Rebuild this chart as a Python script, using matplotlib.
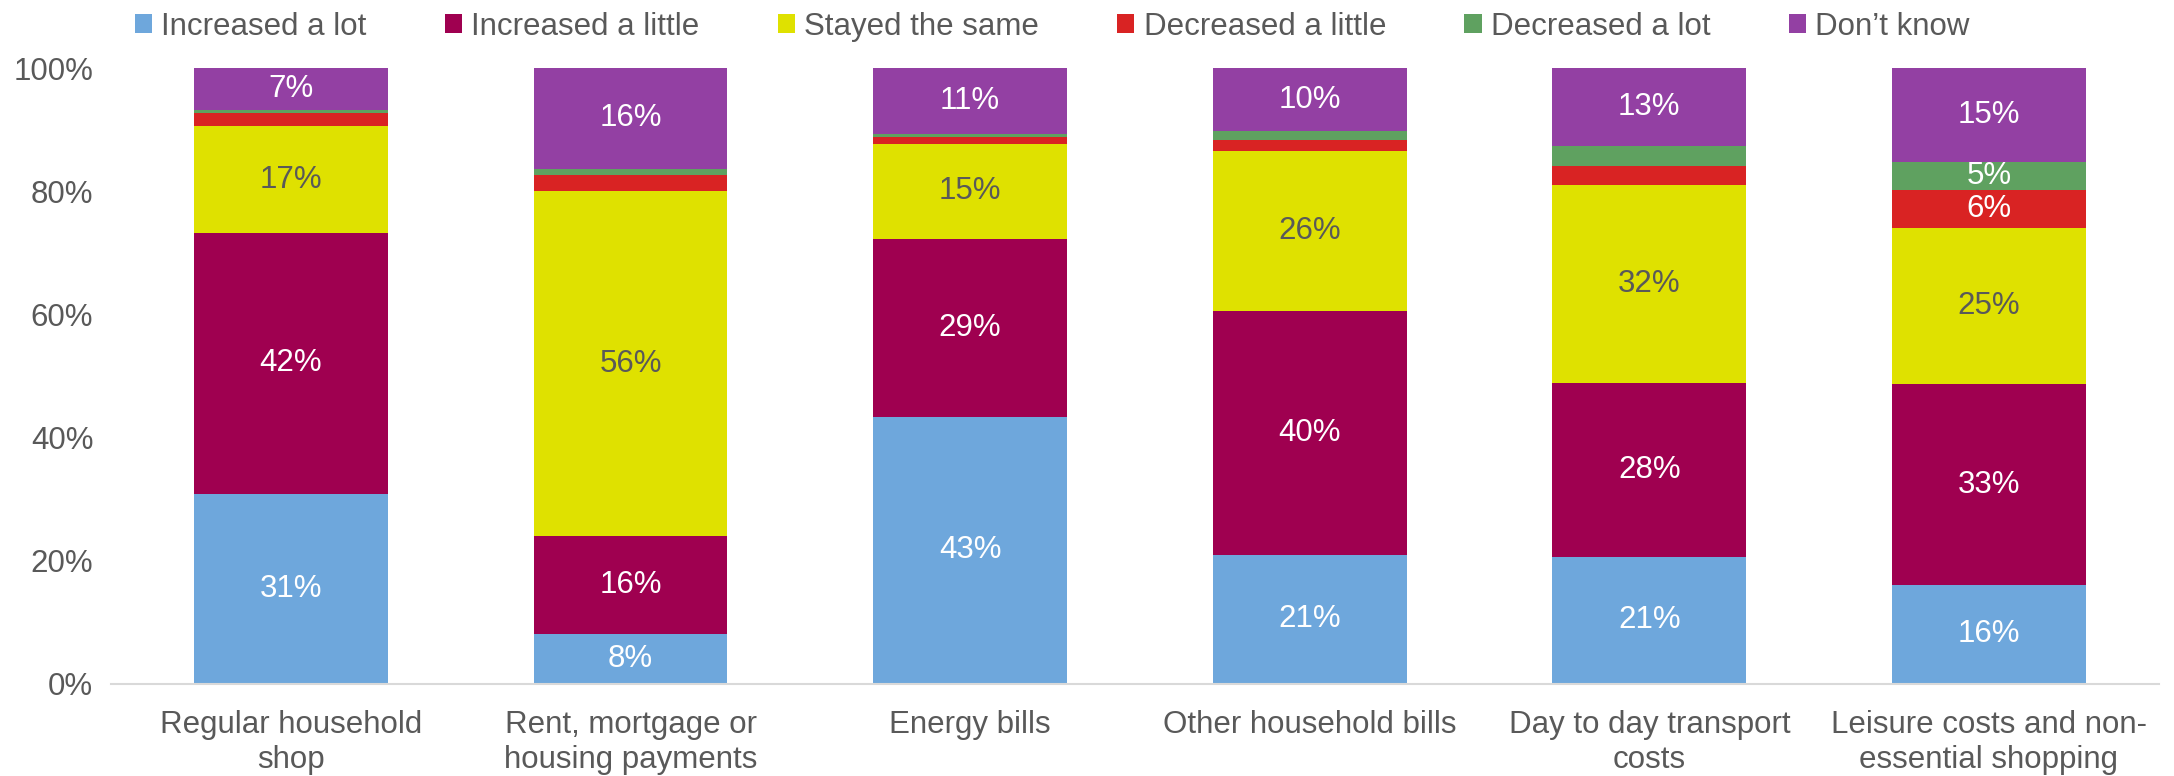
import matplotlib
matplotlib.use("Agg")
import matplotlib.pyplot as plt
import numpy as np

# Data (percent of respondents)
categories = ["Regular household\nshop", "Rent, mortgage or\nhousing payments", "Energy bills",
              "Other household bills", "Day to day transport\ncosts", "Leisure costs and non-\nessential shopping"]
series_names = ["Increased a lot", "Increased a little", "Stayed the same",
                "Decreased a little", "Decreased a lot", "Don\u2019t know"]
increased_lot = [30.9, 8.0, 43.3, 20.9, 20.6, 16.0]
increased_little = [42.3, 16.0, 29.0, 39.7, 28.3, 32.7]
stayed_same = [17.4, 56.0, 15.4, 26.0, 32.1, 25.3]
decreased_little = [2.2, 2.6, 1.1, 1.8, 3.2, 6.2]
decreased_lot = [0.5, 1.1, 0.6, 1.4, 3.2, 4.6]
dont_know = [6.7, 16.3, 10.6, 10.2, 12.6, 15.2]
y_ticks = [0, 20, 40, 60, 80, 100]

colors = ["#6EA7DC", "#9F0050", "#DFE100", "#D92323", "#5FA160", "#9340A3"]
label_colors = ["white", "white", "#595959", "white", "white", "white"]
grey = "#595959"

plt.rcParams["font.family"] = ["Liberation Sans", "DejaVu Sans"]

fig = plt.figure(figsize=(21.74, 7.76), dpi=100)
ax = fig.add_axes([0.0557, 0.119, 0.9373, 0.793])

x = np.arange(len(categories))
bottom = np.zeros(len(categories))
all_series = [increased_lot, increased_little, stayed_same, decreased_little, decreased_lot, dont_know]

for vals, name, col, lc in zip(all_series, series_names, colors, label_colors):
    vals = np.array(vals)
    ax.bar(x, vals, 0.571, bottom=bottom, color=col, label=name, edgecolor="none")
    # label segments big enough to hold text
    for xi, b, v in zip(x, bottom, vals):
        if v >= 4.5:
            ax.text(xi, b + v / 2, "%d%%" % round(v), ha="center", va="center",
                    color=lc, fontsize=22.5)
    bottom += vals

ax.set_xlim(-0.5, len(categories) - 0.5)
ax.set_ylim(0, 100)
ax.set_yticks(y_ticks)
ax.set_yticklabels(["%d%%" % t for t in y_ticks])
ax.set_xticks(x)
ax.set_xticklabels(categories, linespacing=1.2)
ax.tick_params(axis="both", length=0, labelsize=22.5, labelcolor=grey)
ax.tick_params(axis="x", pad=19)
ax.tick_params(axis="y", pad=20)
for s in ["top", "right", "left", "bottom"]:
    ax.spines[s].set_visible(False)
# baseline reaches a little left of the first category
ax.axhline(0, xmin=-0.005, xmax=1, color="#D9D9D9", linewidth=1.5, clip_on=False)

leg = fig.legend(loc="upper left", bbox_to_anchor=(0.049, 1.021), ncol=6, frameon=False,
                 fontsize=22.5, labelcolor=grey, handlelength=0.55, handleheight=0.55,
                 handletextpad=0.3, columnspacing=2.5)

fig.savefig("out.png", dpi=100)
